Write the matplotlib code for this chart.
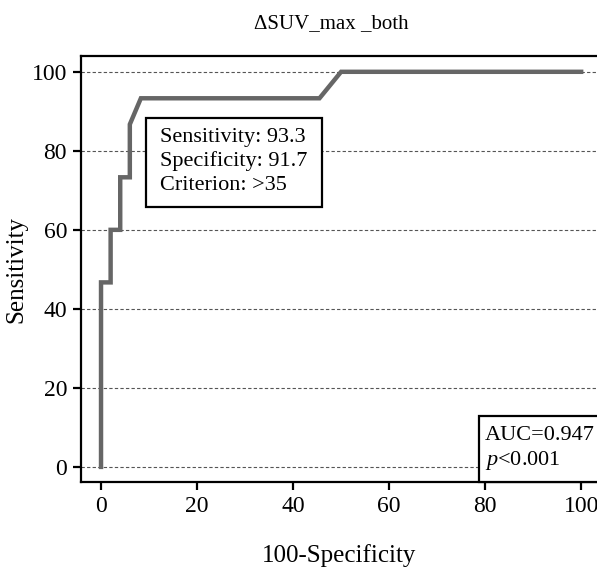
import matplotlib
matplotlib.use("Agg")
import matplotlib.pyplot as plt
from matplotlib.patches import Rectangle

# ROC curve points
fpr = [0, 0, 0, 2, 2, 4, 4, 6, 6, 8.3, 45.5, 50, 100]
tpr = [0, 6.7, 46.7, 46.7, 60, 60, 73.3, 73.3, 86.7, 93.3, 93.3, 100, 100]
ticks = [0, 20, 40, 60, 80, 100]
title = "\u0394SUV_max _both"
info_lines = ["Sensitivity: 93.3", "Specificity: 91.7", "Criterion: >35"]
auc_text = "AUC=0.947"
p_text = r"$\it{p}$<0.001"

plt.rcParams['font.family'] = ['Liberation Serif', 'DejaVu Serif']
plt.rcParams['mathtext.fontset'] = 'custom'
plt.rcParams['mathtext.it'] = 'Liberation Serif:italic'
plt.rcParams['mathtext.rm'] = 'Liberation Serif'

W, H = 597, 574
fig = plt.figure(figsize=(W / 100, H / 100), dpi=100)
ax = fig.add_axes([81 / W, 1 - 482.3 / H, (597 - 81) / W, (482.3 - 56) / H])
ax.set_xlim(-4.17, 103.3)
ax.set_ylim(-3.9, 104)

for t in ticks:
    ax.axhline(t, color='#555555', lw=0.8, ls=(0, (3, 2)), zorder=1)

ax.plot(fpr, tpr, color='#666666', lw=3.2, solid_joinstyle='miter', zorder=3)

ax.spines['right'].set_visible(False)
for s in ['left', 'bottom', 'top']:
    ax.spines[s].set_linewidth(1.6)

ax.set_xticks(ticks)
ax.set_yticks(ticks)
ax.tick_params(axis='both', length=6, width=1.6, labelsize=17, pad=4)

fig.text(331 / W, 1 - 24 / H, title, fontsize=15, ha='center', va='center')
ax.set_xlabel("100-Specificity", fontsize=18, labelpad=19)
ax.set_ylabel("Sensitivity", fontsize=18, labelpad=3)

# info box
ax.add_patch(Rectangle((9.4, 65.9), 36.7, 22.4, facecolor='white', edgecolor='black',
                       lw=1.6, zorder=4))
for i, line in enumerate(info_lines):
    ax.text(12.3, 83.3 - i * 6.0, line, fontsize=16, va='center', ha='left', zorder=5)

# AUC box
ax.add_patch(Rectangle((0.771, 0.0), 0.3, 0.156, transform=ax.transAxes,
                       facecolor='white', edgecolor='black', lw=1.6, zorder=4,
                       clip_on=False))
ax.text(0.783, 0.11, auc_text, transform=ax.transAxes, fontsize=16,
        va='center', ha='left', zorder=5)
ax.text(0.783, 0.052, p_text, transform=ax.transAxes, fontsize=16,
        va='center', ha='left', zorder=5)

fig.savefig("out.png", dpi=100)
